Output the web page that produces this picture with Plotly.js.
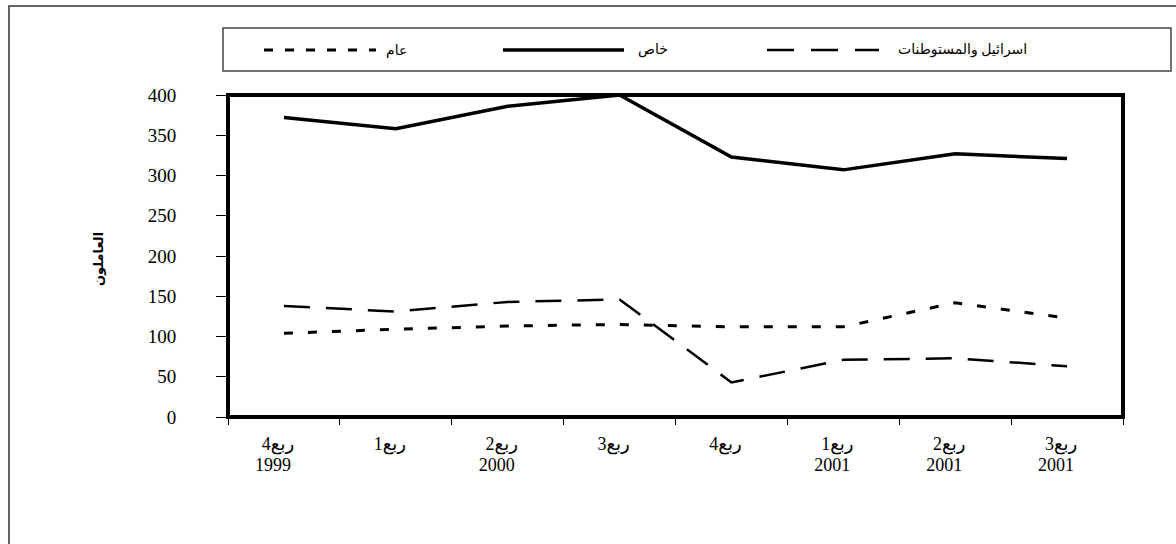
<!DOCTYPE html>
<html>
<head>
<meta charset="utf-8">
<script src="https://cdn.plot.ly/plotly-3.0.1.min.js"></script>
<style>html,body{margin:0;padding:0;background:#fff;}#chart{width:1176px;height:544px;}</style>
</head>
<body>
<div id="chart"></div>
<script>
// ---- data ----
const categories    = ["Q4-1999", "Q1-2000", "Q2-2000", "Q3-2000", "Q4-2000", "Q1-2001", "Q2-2001", "Q3-2001"];
const quarterLabels = ["ربع4", "ربع1", "ربع2", "ربع3", "ربع4", "ربع1", "ربع2", "ربع3"];
const yearLabels    = ["1999", "", "2000", "", "", "2001", "2001", "2001"];
const publicSector  = [104, 109, 113, 115, 112, 112, 142, 123];   // عام
const privateSector = [372, 358, 386, 400, 323, 307, 327, 321];   // خاص
const israelSettl   = [138, 131, 143, 146, 43, 71, 73, 63];       // اسرائيل والمستوطنات
const seriesNames   = ["عام", "خاص", "اسرائيل والمستوطنات"];
const yTitle = "العاملون";
const yTicks = [0, 50, 100, 150, 200, 250, 300, 350, 400];

// plot area in pixels
const L = 228, R = 1123, T = 95, B = 417;
const px = x => (x - L) / (R - L);
const py = y => (B - y) / (B - T);

const styles = [
  {dash: "9px,15px", legDash: "9px,12px", width: 3},
  {dash: "solid", legDash: "solid", width: 3.5},
  {dash: "26px,16px", legDash: "27px,17px", width: 2.5}
];
const series = [publicSector, privateSector, israelSettl];

const traces = series.map((vals, i) => ({
  type: "scatter", mode: "lines", x: categories, y: vals, name: seriesNames[i],
  line: {color: "#000", width: styles[i].width, dash: styles[i].dash},
  showlegend: false, hoverinfo: "skip"
}));
// empty helper trace so the year-label axis is drawn
traces.push({type: "scatter", mode: "none", x: categories, y: categories.map(() => null),
  xaxis: "x2", yaxis: "y", showlegend: false, hoverinfo: "skip"});

const fontFam = "Liberation Serif, Times New Roman, DejaVu Sans, serif";

// legend (drawn manually)
const legendItems = [
  {x0: 264, x1: 376, tx: 384},
  {x0: 503, x1: 624, tx: 636},
  {x0: 767, x1: 879, tx: 896}
];
const legY = 50;

const shapes = [
  {type: "rect", xref: "paper", yref: "paper", x0: px(9), x1: px(1200), y0: py(570), y1: py(6),
   line: {color: "#333", width: 1.5}, layer: "below"},
  {type: "rect", xref: "paper", yref: "paper", x0: px(223), x1: px(1171), y0: py(71), y1: py(28),
   line: {color: "#444", width: 1.5}, fillcolor: "rgba(0,0,0,0)"},
  {type: "rect", xref: "paper", yref: "paper", x0: 0, x1: 1, y0: 0, y1: 1,
   line: {color: "#000", width: 4}}
];
legendItems.forEach((it, i) => {
  shapes.push({type: "line", xref: "paper", yref: "paper", x0: px(it.x0), x1: px(it.x1), y0: py(legY), y1: py(legY),
    line: {color: "#000", width: styles[i].width, dash: styles[i].legDash}});
});

const annotations = legendItems.map((it, i) => ({
  xref: "paper", yref: "paper", x: px(it.tx), y: py(legY), xanchor: "left", yanchor: "middle",
  text: seriesNames[i], showarrow: false, font: {family: fontFam, size: 14, color: "#000"}
}));
annotations.push({
  xref: "paper", yref: "paper", x: px(98), y: py(259), xanchor: "center", yanchor: "middle",
  text: "<b>" + yTitle + "</b>", textangle: -90, showarrow: false,
  font: {family: "DejaVu Sans, sans-serif", size: 13, color: "#000"}
});

const catRange = [-0.5, categories.length - 0.5];
const layout = {
  width: 1176, height: 544,
  margin: {l: L, r: 1176 - R, t: T, b: 544 - B, pad: 0},
  paper_bgcolor: "#fff", plot_bgcolor: "#fff",
  showlegend: false,
  xaxis: {
    type: "category", categoryorder: "array", categoryarray: categories,
    range: catRange, tickson: "boundaries",
    tickmode: "array", tickvals: categories, ticktext: quarterLabels,
    ticks: "outside", ticklen: 7, tickwidth: 1, tickcolor: "#000",
    showgrid: false, zeroline: false, showline: false,
    tickfont: {family: fontFam, size: 18, color: "#000"},
    ticklabelstandoff: 14, ticklabelshift: -6, fixedrange: true
  },
  xaxis2: {
    type: "category", categoryorder: "array", categoryarray: categories,
    overlaying: "x", anchor: "y", side: "bottom", range: catRange,
    tickmode: "array", tickvals: categories, ticktext: yearLabels,
    ticks: "", showgrid: false, zeroline: false, showline: false,
    tickfont: {family: fontFam, size: 18, color: "#000"},
    ticklabelstandoff: 35, ticklabelshift: -11, fixedrange: true
  },
  yaxis: {
    range: [0, 400], tickmode: "array", tickvals: yTicks, ticktext: yTicks.map(String),
    ticks: "outside", ticklen: 11, tickwidth: 1, tickcolor: "#000",
    showgrid: false, zeroline: false, showline: false,
    tickfont: {family: fontFam, size: 19, color: "#000"},
    ticklabelstandoff: 36, fixedrange: true
  },
  shapes: shapes,
  annotations: annotations
};

Plotly.newPlot("chart", traces, layout, {displayModeBar: false, staticPlot: true});
</script>
</body>
</html>
